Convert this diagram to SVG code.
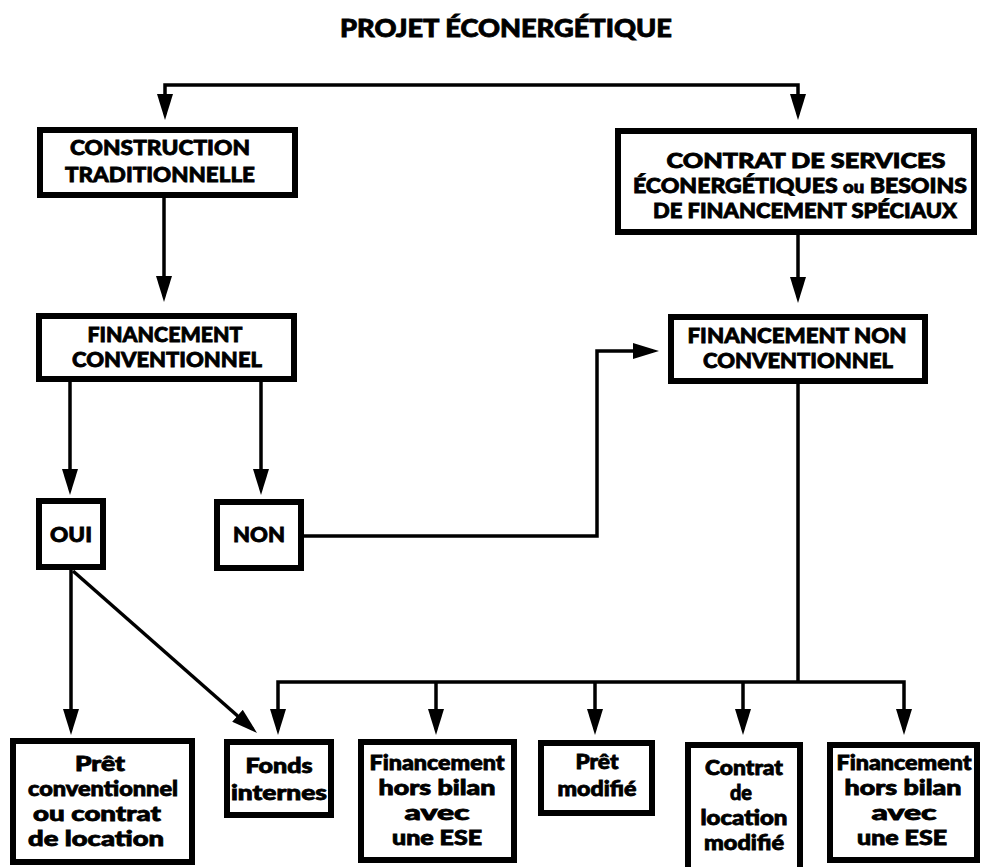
<svg xmlns="http://www.w3.org/2000/svg" width="981" height="867" viewBox="0 0 981 867">
<style>
.box{fill:#fff;stroke:#000;stroke-width:6}
.t{font-family:"Lato","Liberation Sans",sans-serif;font-weight:900;fill:#000;stroke:#000;stroke-width:0.8;text-anchor:middle}
.h{font-size:21px}
.s{font-size:20px}
.l{font-size:20px}
.ln{fill:none;stroke:#000;stroke-width:3.5}
.ar{marker-end:url(#ah)}
</style>
<defs>
<marker id="ah" markerUnits="userSpaceOnUse" viewBox="0 0 26 16" refX="20" refY="8" markerWidth="26" markerHeight="16" orient="auto">
<path d="M0,0 L26,8 L0,16 Z" fill="#000"/>
</marker>
</defs>
<rect width="981" height="867" fill="#fff"/>
<text class="t" x="506" y="37" font-size="24" stroke-width="1" textLength="332" lengthAdjust="spacingAndGlyphs">PROJET ÉCONERGÉTIQUE</text>

<g id="connectors">
<path class="ln ar" d="M482,85 H165 V114"/>
<path class="ln ar" d="M482,85 H798 V114"/>
<path class="ln ar" d="M164,198 V296"/>
<path class="ln ar" d="M798,235 V297"/>
<path class="ln ar" d="M70,382 V489"/>
<path class="ln ar" d="M261,382 V489"/>
<path class="ln ar" d="M304,536 H597 V351 H653"/>
<path class="ln ar" d="M71,570 V729"/>
<path class="ln ar" d="M73,571 L252.5,729"/>
<path class="ln" d="M798,384 V682"/>
<path class="ln ar" d="M600,682 H278 V729"/>
<path class="ln ar" d="M600,682 H904 V729"/>
<path class="ln ar" d="M436,682 V729"/>
<path class="ln ar" d="M595,682 V729"/>
<path class="ln ar" d="M743,682 V729"/>
</g>

<g id="construction">
<rect class="box" x="40" y="130" width="255" height="65"/>
<text class="t h" x="160" y="155" textLength="180" lengthAdjust="spacingAndGlyphs">CONSTRUCTION</text>
<text class="t h" x="160" y="182" textLength="190" lengthAdjust="spacingAndGlyphs">TRADITIONNELLE</text>
</g>

<g id="contrat-services">
<rect class="box" x="618" y="131" width="356" height="101"/>
<text class="t s" x="806" y="168" textLength="279" lengthAdjust="spacingAndGlyphs">CONTRAT DE SERVICES</text>
<text class="t s" x="800" y="193" textLength="334" lengthAdjust="spacingAndGlyphs">ÉCONERGÉTIQUES <tspan font-size="16">ou</tspan> BESOINS</text>
<text class="t s" x="805" y="218" textLength="304" lengthAdjust="spacingAndGlyphs">DE FINANCEMENT SPÉCIAUX</text>
</g>

<g id="financement-conventionnel">
<rect class="box" x="39" y="316" width="255" height="63"/>
<text class="t h" x="165" y="342" textLength="155" lengthAdjust="spacingAndGlyphs">FINANCEMENT</text>
<text class="t h" x="167" y="367" textLength="190" lengthAdjust="spacingAndGlyphs">CONVENTIONNEL</text>
</g>

<g id="financement-non-conventionnel">
<rect class="box" x="671" y="317" width="254" height="64"/>
<text class="t h" x="797" y="343" textLength="219" lengthAdjust="spacingAndGlyphs">FINANCEMENT NON</text>
<text class="t h" x="798" y="368" textLength="190" lengthAdjust="spacingAndGlyphs">CONVENTIONNEL</text>
</g>

<g id="oui">
<rect class="box" x="39" y="501" width="64" height="66"/>
<text class="t h" x="71" y="542" textLength="42" lengthAdjust="spacingAndGlyphs">OUI</text>
</g>

<g id="non">
<rect class="box" x="217" y="502" width="84" height="66"/>
<text class="t h" x="259" y="542" textLength="52" lengthAdjust="spacingAndGlyphs">NON</text>
</g>

<g id="pret-conventionnel">
<rect class="box" x="13" y="741" width="179" height="121"/>
<text class="t l" x="100" y="771" textLength="50" lengthAdjust="spacingAndGlyphs">Prêt</text>
<text class="t l" x="103" y="796" textLength="150" lengthAdjust="spacingAndGlyphs">conventionnel</text>
<text class="t l" x="97" y="821" textLength="128" lengthAdjust="spacingAndGlyphs">ou contrat</text>
<text class="t l" x="96" y="846" textLength="136" lengthAdjust="spacingAndGlyphs">de location</text>
</g>

<g id="fonds-internes">
<rect class="box" x="227" y="742" width="104" height="73"/>
<text class="t l" x="279" y="773" textLength="67" lengthAdjust="spacingAndGlyphs">Fonds</text>
<text class="t l" x="279" y="800" textLength="96" lengthAdjust="spacingAndGlyphs">internes</text>
</g>

<g id="financement-hors-bilan-1">
<rect class="box" x="361" y="742" width="153" height="118"/>
<text class="t l" x="437" y="770" textLength="135" lengthAdjust="spacingAndGlyphs">Financement</text>
<text class="t l" x="437" y="795" textLength="117" lengthAdjust="spacingAndGlyphs">hors bilan</text>
<text class="t l" x="437" y="820" textLength="65" lengthAdjust="spacingAndGlyphs">avec</text>
<text class="t l" x="437" y="845" textLength="90" lengthAdjust="spacingAndGlyphs">une ESE</text>
</g>

<g id="pret-modifie">
<rect class="box" x="541" y="743" width="111" height="70"/>
<text class="t l" x="597" y="769" textLength="43" lengthAdjust="spacingAndGlyphs">Prêt</text>
<text class="t l" x="597" y="796" textLength="79" lengthAdjust="spacingAndGlyphs">modifié</text>
</g>

<g id="contrat-location-modifie">
<rect class="box" x="688" y="745" width="112" height="130"/>
<text class="t l" x="744" y="775" textLength="78" lengthAdjust="spacingAndGlyphs">Contrat</text>
<text class="t l" x="741" y="800" textLength="22" lengthAdjust="spacingAndGlyphs">de</text>
<text class="t l" x="744" y="825" textLength="87" lengthAdjust="spacingAndGlyphs">location</text>
<text class="t l" x="744" y="850" textLength="80" lengthAdjust="spacingAndGlyphs">modifié</text>
</g>

<g id="financement-hors-bilan-2">
<rect class="box" x="830" y="745" width="147" height="115"/>
<text class="t l" x="904" y="770" textLength="135" lengthAdjust="spacingAndGlyphs">Financement</text>
<text class="t l" x="903" y="795" textLength="117" lengthAdjust="spacingAndGlyphs">hors bilan</text>
<text class="t l" x="904" y="820" textLength="65" lengthAdjust="spacingAndGlyphs">avec</text>
<text class="t l" x="902" y="845" textLength="90" lengthAdjust="spacingAndGlyphs">une ESE</text>
</g>
</svg>
